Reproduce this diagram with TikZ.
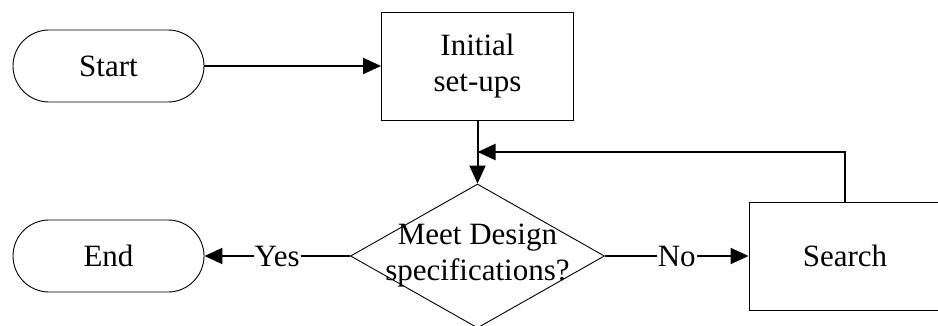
\documentclass[tikz,border=0pt]{standalone}
\usepackage{fontspec}
\setmainfont{Liberation Serif}
\usetikzlibrary{shapes.geometric,arrows.meta,calc}

\begin{document}
\begin{tikzpicture}[x=1pt,y=1pt,
 font=\fontsize{31}{36}\selectfont,
 terminal/.style={draw,line width=0.9pt,rounded corners=36pt,minimum width=191pt,minimum height=72pt,inner sep=0pt},
 process/.style={draw,line width=0.9pt,minimum width=192pt,minimum height=108pt,align=center,inner sep=0pt},
 decision/.style={draw,diamond,line width=0.9pt,minimum width=254pt,minimum height=144pt,inner sep=0pt},
 flow/.style={line width=2pt,-{Triangle[length=18pt,width=16pt]}},
 tag/.style={fill=white,inner sep=1pt}]
 \useasboundingbox (0,0) rectangle (938,325);
 % boxes
 \node[terminal] (start) at (108.5,259) {Start};
 \node[process] (init) at (477.5,259) {Initial\\set-ups};
 \node[decision] (meet) at (477.5,69) {};
 \node[align=center] (meettext) at (meet) {Meet Design\\specifications?};
 \node[terminal] (end) at (108.5,69) {End};
 \node[process] (search) at (845,69) {Search};
 % arrows
 \draw[flow] (start) -- (init);
 \draw[flow] (init) -- (meet);
 \draw[flow] (meet) -- node[tag]{Yes} (end);
 \draw[flow] (meet) -- node[tag]{No} (search);
 \coordinate (join) at ($(init.south)!0.5!(meet.north)$);
 \draw[flow] (search.north) |- (join);
\end{tikzpicture}
\end{document}
